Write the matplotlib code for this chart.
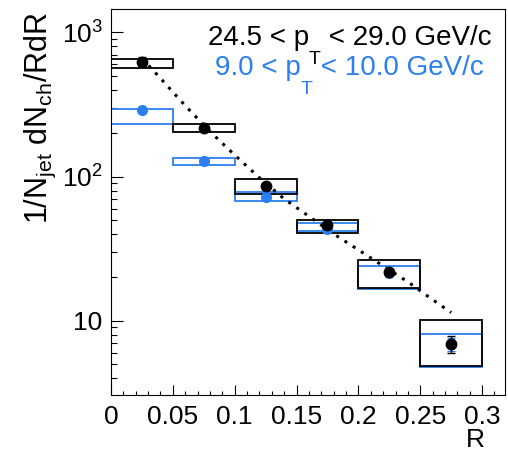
import matplotlib
matplotlib.use('Agg')

import matplotlib.pyplot as plt
from matplotlib.patches import Rectangle
from matplotlib.ticker import FixedLocator, FuncFormatter, MultipleLocator, NullFormatter

plt.rcParams['font.family'] = ['Liberation Sans', 'DejaVu Sans']
plt.rcParams['mathtext.fontset'] = 'custom'
plt.rcParams['mathtext.rm'] = 'Liberation Sans'
plt.rcParams['mathtext.it'] = 'Liberation Sans:italic'

# bins in R
r_edges = [0.0, 0.05, 0.1, 0.15, 0.2, 0.25, 0.3]
r_centers = [0.025, 0.075, 0.125, 0.175, 0.225, 0.275]

# 24.5 < pT < 29.0 GeV/c
high_y = [625, 216, 86.0, 46.2, 21.7, 6.95]
high_stat = [45, 8, 3.5, 2.0, 1.2, 0.93]
high_sys_lo = [569, 205, 75.7, 40.5, 16.9, 4.85]
high_sys_hi = [653, 232, 95.7, 50.0, 26.5, 10.1]

# 9.0 < pT < 10.0 GeV/c
low_y = [287, 128, 72.6, 43.2, 21.4, 6.9]
low_stat = [12, 6, 3.0, 1.8, 1.0, 0.7]
low_sys_lo = [232, 120, 68.1, 42.2, 16.6, 4.75]
low_sys_hi = [296, 134, 77.8, 47.4, 23.8, 8.15]

# fitted curve for the high-pT jets
fit_r = [0.025, 0.04, 0.06, 0.08, 0.10, 0.12, 0.14, 0.16, 0.18, 0.20, 0.22, 0.24, 0.26, 0.275]
fit_y = [660, 480, 310, 205, 141, 98, 70, 53, 40, 31, 24, 18.6, 14.0, 11.4]

y_ticks = [10, 100, 1000]
y_tick_labels = ['10', '$10^{2}$', '$10^{3}$']

blue = '#2b7ff0'
fs = 19
fs_text = 20

fig = plt.figure(figsize=(5.08, 4.53), dpi=100)
ax = fig.add_axes([0.2185, 0.128, 0.7756, 0.8532])
ax.set_yscale('log')
ax.set_xlim(0, 0.3185)
ax.set_ylim(3.055, 1462)

# systematic boxes
for i in range(len(r_centers)):
    lo, hi = r_edges[i], r_edges[i + 1]
    ax.add_patch(Rectangle((lo, low_sys_lo[i]), hi - lo, low_sys_hi[i] - low_sys_lo[i],
                           fill=False, edgecolor=blue, lw=1.3, zorder=2))
for i in range(len(r_centers)):
    lo, hi = r_edges[i], r_edges[i + 1]
    ax.add_patch(Rectangle((lo, high_sys_lo[i]), hi - lo, high_sys_hi[i] - high_sys_lo[i],
                           fill=False, edgecolor='black', lw=1.3, zorder=3))

ax.plot(fit_r, fit_y, color='black', ls=(0, (1, 2.2)), lw=2.2, zorder=4)

ax.errorbar(r_centers, low_y, yerr=low_stat, fmt='o', color=blue, ms=7,
            capsize=3, elinewidth=1, capthick=1, zorder=5)
ax.errorbar(r_centers, high_y, yerr=high_stat, fmt='o', color='black', ms=7.5,
            capsize=3, elinewidth=1, capthick=1, zorder=6)

# axes and ticks
ax.xaxis.set_major_locator(MultipleLocator(0.05))
ax.xaxis.set_minor_locator(MultipleLocator(0.01))
ax.xaxis.set_major_formatter(FuncFormatter(lambda v, p: '0' if v == 0 else f'{v:g}'))
ax.yaxis.set_major_locator(FixedLocator(y_ticks))
ax.yaxis.set_major_formatter(FuncFormatter(lambda v, p: y_tick_labels[y_ticks.index(round(v))] if round(v) in y_ticks else ''))
ax.yaxis.set_minor_formatter(NullFormatter())
ax.tick_params(axis='both', which='both', direction='in', width=0.8, labelsize=fs)
ax.tick_params(axis='x', which='major', length=7.2, pad=7)
ax.tick_params(axis='x', which='minor', length=3)
ax.tick_params(axis='y', which='major', length=8.6, pad=6)
ax.tick_params(axis='y', which='minor', length=4.3)
for s in ax.spines.values():
    s.set_linewidth(0.8)

fig.text(485 / 508, 0.002, 'R', ha='right', va='bottom', fontsize=fs)
fig.text(40 / 508, 1 - 12 / 453, r'1/N$_{\mathrm{jet}}$ dN$_{\mathrm{ch}}$/RdR',
         rotation=90, ha='center', va='top', fontsize=22)


def pt_label(x, y, lo, hi, color):
    head = ax.text(x, y, f'{lo} < p', transform=ax.transAxes, ha='left', va='baseline',
                   fontsize=fs_text, color=color)
    sub = ax.annotate('T', xy=(1, 0), xycoords=head, ha='left', va='top',
                      fontsize=fs_text * 0.7, color=color)
    ax.annotate(f' < {hi} GeV/c', xy=(1, y), xycoords=(sub, 'axes fraction'),
                ha='left', va='baseline', fontsize=fs_text, color=color)


pt_label(0.246, 0.9056, '24.5', '29.0', 'black')
pt_label(0.264, 0.828, '9.0', '10.0', blue)

fig.savefig('out.png', dpi=100)
